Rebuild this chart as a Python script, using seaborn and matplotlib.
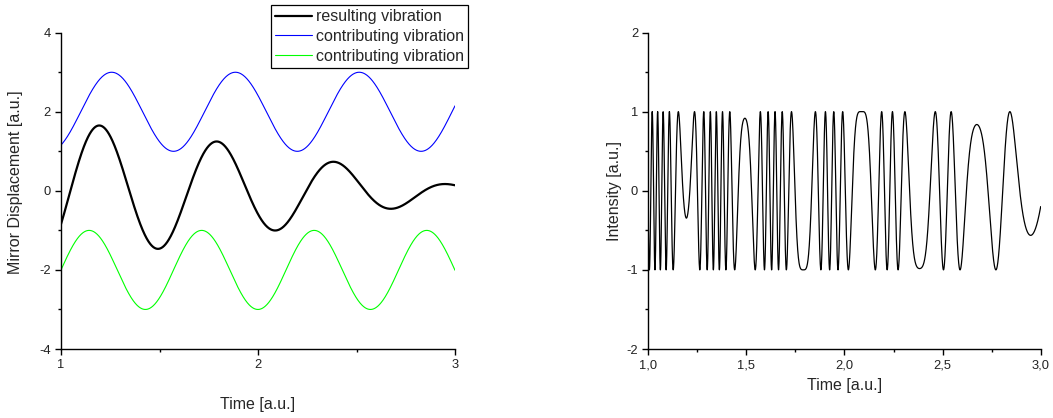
import numpy as np
import pandas as pd
import matplotlib
matplotlib.use("Agg")
import matplotlib.pyplot as plt
from matplotlib.ticker import MultipleLocator, FixedLocator, FixedFormatter
import seaborn as sns

# Two contributing mirror vibrations: x(t) = offset + amplitude * sin(omega * t + phase)
series_names = ["contributing vibration", "contributing vibration"]
series_colors = ["#0000ff", "#00ff00"]
amplitudes = [1.0, 1.0]
angular_freqs = [10.0, 11.0]
phases = [-11.0, -11.0]
offsets = [2.0, -2.0]

# Interferometer: path difference is twice the displacement, wavelength in a.u.
wavelength = 1.0

# Axis settings
time_range = [1.0, 3.0]
disp_ticks = [-4, -2, 0, 2, 4]
int_ticks = [-2, -1, 0, 1, 2]
int_time_ticks = [1.0, 1.5, 2.0, 2.5, 3.0]
int_time_labels = ["1,0", "1,5", "2,0", "2,5", "3,0"]

t = np.linspace(time_range[0], time_range[1], 4001)
parts = [a * np.sin(w * t + p) for a, w, p in zip(amplitudes, angular_freqs, phases)]
resulting = parts[0] + parts[1]
intensity = np.cos(2 * np.pi * 2 * resulting / wavelength)

df_res = pd.DataFrame({"t": t, "x": resulting})
df_c1 = pd.DataFrame({"t": t, "x": parts[0] + offsets[0]})
df_c2 = pd.DataFrame({"t": t, "x": parts[1] + offsets[1]})
df_int = pd.DataFrame({"t": t, "I": intensity})

sns.set_theme(style="white")
plt.rcParams["font.family"] = ["Liberation Sans", "DejaVu Sans"]
plt.rcParams["axes.unicode_minus"] = False

W, H = 1053, 418
fig = plt.figure(figsize=(W / 100, H / 100), dpi=100)
ax1 = fig.add_axes([61 / W, 1 - 349 / H, 394 / W, 316.3 / H])
ax2 = fig.add_axes([648.3 / W, 1 - 349 / H, 392.4 / W, 316.5 / H])

sns.lineplot(data=df_res, x="t", y="x", ax=ax1, color="black", lw=1.6,
             label="resulting vibration", sort=False, estimator=None)
sns.lineplot(data=df_c1, x="t", y="x", ax=ax1, color=series_colors[0], lw=0.8,
             label=series_names[0], sort=False, estimator=None)
sns.lineplot(data=df_c2, x="t", y="x", ax=ax1, color=series_colors[1], lw=0.8,
             label=series_names[1], sort=False, estimator=None)
sns.lineplot(data=df_int, x="t", y="I", ax=ax2, color="black", lw=0.9,
             sort=False, estimator=None)

for ax in (ax1, ax2):
    sns.despine(ax=ax)
    for s in ("left", "bottom"):
        ax.spines[s].set_color("black")
        ax.spines[s].set_linewidth(1.0)
    ax.set_xlim(*time_range)
    ax.tick_params(which="major", direction="out", length=4.3, width=1.0,
                   pad=3, labelsize=9.3, color="black", labelcolor="#222222",
                   left=True, bottom=True)
    ax.tick_params(which="minor", direction="out", length=2.5, width=1.0,
                   color="black", left=True, bottom=True)

ax1.set_ylim(disp_ticks[0], disp_ticks[-1])
ax1.xaxis.set_major_locator(MultipleLocator(1))
ax1.xaxis.set_minor_locator(MultipleLocator(0.5))
ax1.yaxis.set_major_locator(FixedLocator(disp_ticks))
ax1.yaxis.set_minor_locator(MultipleLocator(1))
ax1.set_xlabel("Time [a.u.]", fontsize=11.5, va="center")
ax1.set_ylabel("Mirror Displacement [a.u.]", fontsize=11.5, va="center")
ax1.xaxis.set_label_coords(0.5, -0.177)
ax1.yaxis.set_label_coords(-0.116, 0.527)

ax2.set_ylim(int_ticks[0], int_ticks[-1])
ax2.xaxis.set_major_locator(FixedLocator(int_time_ticks))
ax2.xaxis.set_major_formatter(FixedFormatter(int_time_labels))
ax2.xaxis.set_minor_locator(MultipleLocator(0.25))
ax2.yaxis.set_major_locator(FixedLocator(int_ticks))
ax2.yaxis.set_minor_locator(MultipleLocator(0.5))
ax2.set_xlabel("Time [a.u.]", fontsize=11.5, va="center")
ax2.set_ylabel("Intensity [a.u.]", fontsize=11.5, va="center")
ax2.xaxis.set_label_coords(0.5, -0.114)
ax2.yaxis.set_label_coords(-0.085, 0.5)

leg = ax1.legend(loc="upper right", bbox_to_anchor=(468.3 / W, 1 - 5 / H),
                 bbox_transform=fig.transFigure, borderaxespad=0,
                 fontsize=11.5, frameon=True, fancybox=False, framealpha=1,
                 edgecolor="black", borderpad=0.27, labelspacing=0.29,
                 handlelength=2.3, handletextpad=0.25)
leg.get_frame().set_linewidth(0.9)

fig.savefig("out.png", dpi=100)
